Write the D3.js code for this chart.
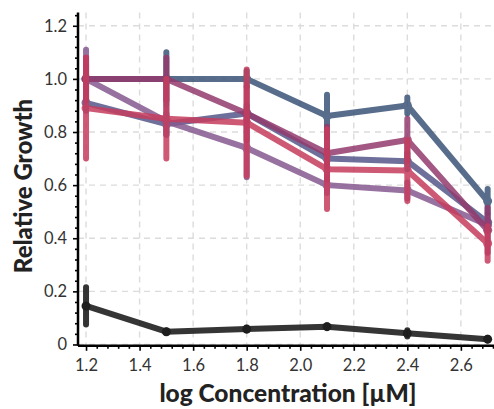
<!DOCTYPE html>
<html>
<head>
<meta charset="utf-8">
<script src="https://cdn.jsdelivr.net/npm/d3@7"></script>
<style>
  html, body { margin: 0; padding: 0; background: #fff; }
  svg { display: block; }
</style>
</head>
<body>
<svg id="chart" width="494" height="409"></svg>
<script>
// log concentration (µM) at which growth was measured
const concentrations = [1.2, 1.5, 1.8, 2.1, 2.4, 2.7];

// relative growth per compound, with its error (± half-range)
const seriesNames = ["A", "B", "C", "D", "E", "Ctrl"];
const growthA = [1.00, 1.00, 1.00, 0.86, 0.90, 0.54];
const errA    = [0.05, 0.10, 0.03, 0.08, 0.03, 0.045];
const growthB = [0.91, 0.83, 0.87, 0.70, 0.69, 0.46];
const errB    = [0.03, 0.04, 0.03, 0.03, 0.03, 0.03];
const growthC = [1.00, 0.84, 0.74, 0.60, 0.58, 0.45];
const errC    = [0.11, 0.05, 0.11, 0.03, 0.03, 0.02];
const growthD = [1.00, 1.00, 0.87, 0.72, 0.77, 0.43];
const errD    = [0.08, 0.08, 0.10, 0.10, 0.08, 0.085];
const growthE = [0.89, 0.85, 0.835, 0.66, 0.655, 0.38];
const errE    = [0.19, 0.15, 0.20, 0.15, 0.115, 0.065];
const growthCtrl = [0.145, 0.048, 0.058, 0.067, 0.042, 0.02];
const errCtrl    = [0.07, 0.005, 0.005, 0.005, 0.012, 0.005];

const seriesColors = ["#3a5477", "#55588a", "#86598f", "#933a6e", "#c63d5e", "#1a1a1a"];

const xTicks = [1.2, 1.4, 1.6, 1.8, 2.0, 2.2, 2.4, 2.6];
const yTicks = [0, 0.2, 0.4, 0.6, 0.8, 1.0, 1.2];

const values = [growthA, growthB, growthC, growthD, growthE, growthCtrl];
const errors = [errA, errB, errC, errD, errE, errCtrl];

const series = seriesNames.map((name, i) => ({
  name,
  color: seriesColors[i],
  points: concentrations.map((c, j) => ({ x: c, y: values[i][j], e: errors[i][j] }))
}));

const svg = d3.select("#chart");
const plotLeft = 78, plotRight = 493, plotTop = 12.5, plotBottom = 345.8;

const x = d3.scaleLinear().domain([1.17, 2.72]).range([plotLeft, plotRight]);
const y = d3.scaleLinear().domain([-0.005, 1.25]).range([plotBottom, plotTop]);

const font = "Lato, 'Open Sans', sans-serif";

// dashed grid at major ticks
const grid = svg.append("g").attr("stroke", "#dcdcdc").attr("stroke-width", 1.4)
  .attr("stroke-dasharray", "6,5");
grid.selectAll("line.v").data(xTicks).join("line").attr("class", "v")
  .attr("x1", d => x(d)).attr("x2", d => x(d)).attr("y1", plotTop).attr("y2", plotBottom);
grid.selectAll("line.h").data(yTicks).join("line").attr("class", "h")
  .attr("x1", plotLeft).attr("x2", plotRight).attr("y1", d => y(d)).attr("y2", d => y(d));

// minor ticks every 0.04
const isMajor = v => Math.abs(v * 5 - Math.round(v * 5)) < 1e-6;
const xMinor = d3.range(1.2, 2.72, 0.04).filter(v => !isMajor(v));
const yMinor = d3.range(0, 1.25, 0.04).filter(v => !isMajor(v));

const xAxis = svg.append("g").attr("transform", `translate(0,${plotBottom})`)
  .call(d3.axisBottom(x).tickValues(xTicks).tickFormat(d3.format(".1f")).tickSize(5).tickPadding(8));
const xAxisMinor = svg.append("g").attr("transform", `translate(0,${plotBottom})`)
  .call(d3.axisBottom(x).tickValues(xMinor).tickFormat("").tickSize(3).tickSizeOuter(0));
const yAxis = svg.append("g").attr("transform", `translate(${plotLeft},0)`)
  .call(d3.axisLeft(y).tickValues(yTicks).tickFormat(d => d === 0 ? "0" : d3.format(".1f")(d)).tickSize(5).tickPadding(6));
const yAxisMinor = svg.append("g").attr("transform", `translate(${plotLeft},0)`)
  .call(d3.axisLeft(y).tickValues(yMinor).tickFormat("").tickSize(3).tickSizeOuter(0));

[xAxis, xAxisMinor, yAxis, yAxisMinor].forEach(g => {
  g.select(".domain").attr("stroke", "#000").attr("stroke-width", 2.5);
  g.selectAll(".tick line").attr("stroke", "#000").attr("stroke-width", 1.6);
  g.selectAll(".tick text").attr("font-family", font).attr("font-size", 16.5).attr("fill", "#333");
});
xAxisMinor.select(".domain").remove();
yAxisMinor.select(".domain").remove();
xAxis.select(".domain").attr("d", `M${plotLeft},0H${plotRight + 2}`);
yAxis.select(".domain").attr("d", `M0,${plotTop}V${plotBottom}`);

// series: lines, error bars, markers
const line = d3.line().x(d => x(d.x)).y(d => y(d.y));
const marks = svg.append("g");

series.forEach(s => {
  const g = marks.append("g").attr("opacity", s.name === "Ctrl" ? 0.88 : 0.85);
  g.append("path").datum(s.points).attr("d", line)
    .attr("fill", "none").attr("stroke", s.color).attr("stroke-width", 6)
    .attr("stroke-linejoin", "round").attr("stroke-linecap", "round");
  g.selectAll("line.err").data(s.points).join("line").attr("class", "err")
    .attr("x1", d => x(d.x)).attr("x2", d => x(d.x))
    .attr("y1", d => y(d.y - d.e)).attr("y2", d => y(d.y + d.e))
    .attr("stroke", s.color).attr("stroke-width", 6).attr("stroke-linecap", "round");
  g.selectAll("circle").data(s.points).join("circle")
    .attr("cx", d => x(d.x)).attr("cy", d => y(d.y)).attr("r", 4.5)
    .attr("fill", s.name === "Ctrl" ? "#000" : s.color);
});

// axis titles
svg.append("text")
  .attr("x", 288).attr("y", 402)
  .attr("text-anchor", "middle")
  .attr("font-family", font).attr("font-weight", 900).attr("font-size", 24.5)
  .attr("fill", "#222")
  .text("log Concentration [µM]");

svg.append("text")
  .attr("transform", "translate(32,186) rotate(-90)")
  .attr("text-anchor", "middle")
  .attr("font-family", font).attr("font-weight", 900).attr("font-size", 24)
  .attr("fill", "#222")
  .text("Relative Growth");
</script>
</body>
</html>
